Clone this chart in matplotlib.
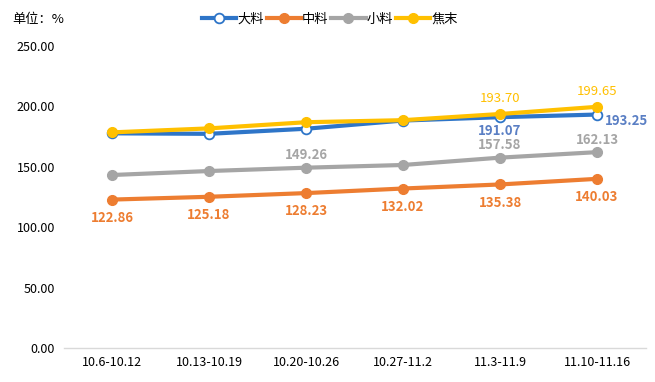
import matplotlib
matplotlib.use("Agg")
import matplotlib.pyplot as plt
from matplotlib.lines import Line2D

plt.rcParams['font.family'] = ['Noto Sans CJK SC', 'DejaVu Sans']

categories = ["10.6-10.12", "10.13-10.19", "10.20-10.26", "10.27-11.2", "11.3-11.9", "11.10-11.16"]
dali = [177.7, 177.3, 181.5, 188.3, 191.07, 193.25]
zhongliao = [122.86, 125.18, 128.23, 132.02, 135.38, 140.03]
xiaoliao = [143.2, 146.5, 149.26, 151.5, 157.58, 162.13]
jiaomo = [178.5, 181.8, 186.9, 188.6, 193.70, 199.65]
yticks = [0, 50, 100, 150, 200, 250]

c_blue = "#2E75C8"
c_orange = "#ED7D31"
c_gray = "#A5A5A5"
c_yellow = "#FFC000"
c_blue_lbl = "#5A7FC4"

fig = plt.figure(figsize=(6.55, 3.82), dpi=100)
ax = fig.add_axes([63.5/655, 34/382, 582/655, 302/382])

x = list(range(len(categories)))
lw = 3
ax.plot(x, zhongliao, color=c_orange, lw=lw, marker='o', ms=7, zorder=3)
ax.plot(x, xiaoliao, color=c_gray, lw=lw, marker='o', ms=7, zorder=3)
ax.plot(x, dali, color=c_blue, lw=lw, marker='o', ms=7, mfc='white', mec=c_blue, mew=1.3, zorder=4)
ax.plot(x, jiaomo, color=c_yellow, lw=lw, marker='o', ms=7, zorder=5)

ax.set_xlim(-0.5, len(categories) - 0.5)
ax.set_ylim(0, 250)
ax.set_yticks(yticks)
ax.set_yticklabels([f"{v:.2f}" for v in yticks], fontsize=9)
ax.set_xticks(x)
ax.set_xticklabels(categories, fontsize=9)
ax.tick_params(axis='both', length=0, pad=6)
for s in ['top', 'right', 'left']:
    ax.spines[s].set_visible(False)
ax.spines['bottom'].set_color('#D9D9D9')
ax.spines['bottom'].set_linewidth(1)

fs = 9.5
for i, v in enumerate(zhongliao):
    ax.annotate(f"{v:.2f}", (i, v), xytext=(0, -13), textcoords='offset points',
                ha='center', va='center', color=c_orange, fontsize=fs, fontweight='bold')
for i in [2, 4, 5]:
    ax.annotate(f"{xiaoliao[i]:.2f}", (i, xiaoliao[i]), xytext=(0, 9), textcoords='offset points',
                ha='center', va='center', color=c_gray, fontsize=fs, fontweight='bold')
for i in [4, 5]:
    ax.annotate(f"{jiaomo[i]:.2f}", (i, jiaomo[i]), xytext=(0, 11), textcoords='offset points',
                ha='center', va='center', color=c_yellow, fontsize=fs)
ax.annotate(f"{dali[4]:.2f}", (4, dali[4]), xytext=(0, -10), textcoords='offset points',
            ha='center', va='center', color=c_blue_lbl, fontsize=fs, fontweight='bold')
ax.annotate(f"{dali[5]:.2f}", (5, dali[5]), xytext=(6, -5), textcoords='offset points',
            ha='left', va='center', color=c_blue_lbl, fontsize=fs, fontweight='bold')

fig.text(12/655, 1 - 19/382, "单位：%", fontsize=9.5, ha='left', va='center')

handles = [
    Line2D([], [], color=c_blue, lw=lw, marker='o', ms=7, mfc='white', mec=c_blue, mew=1.3),
    Line2D([], [], color=c_orange, lw=lw, marker='o', ms=7),
    Line2D([], [], color=c_gray, lw=lw, marker='o', ms=7),
    Line2D([], [], color=c_yellow, lw=lw, marker='o', ms=7),
]
fig.legend(handles, ["大料", "中料", "小料", "焦末"], loc='center', bbox_to_anchor=(330/655, 1 - 19/382),
           ncol=4, frameon=False, fontsize=9.5, handlelength=2.6, handletextpad=0.1,
           columnspacing=0.2, borderpad=0)

fig.savefig("out.png", dpi=100)
